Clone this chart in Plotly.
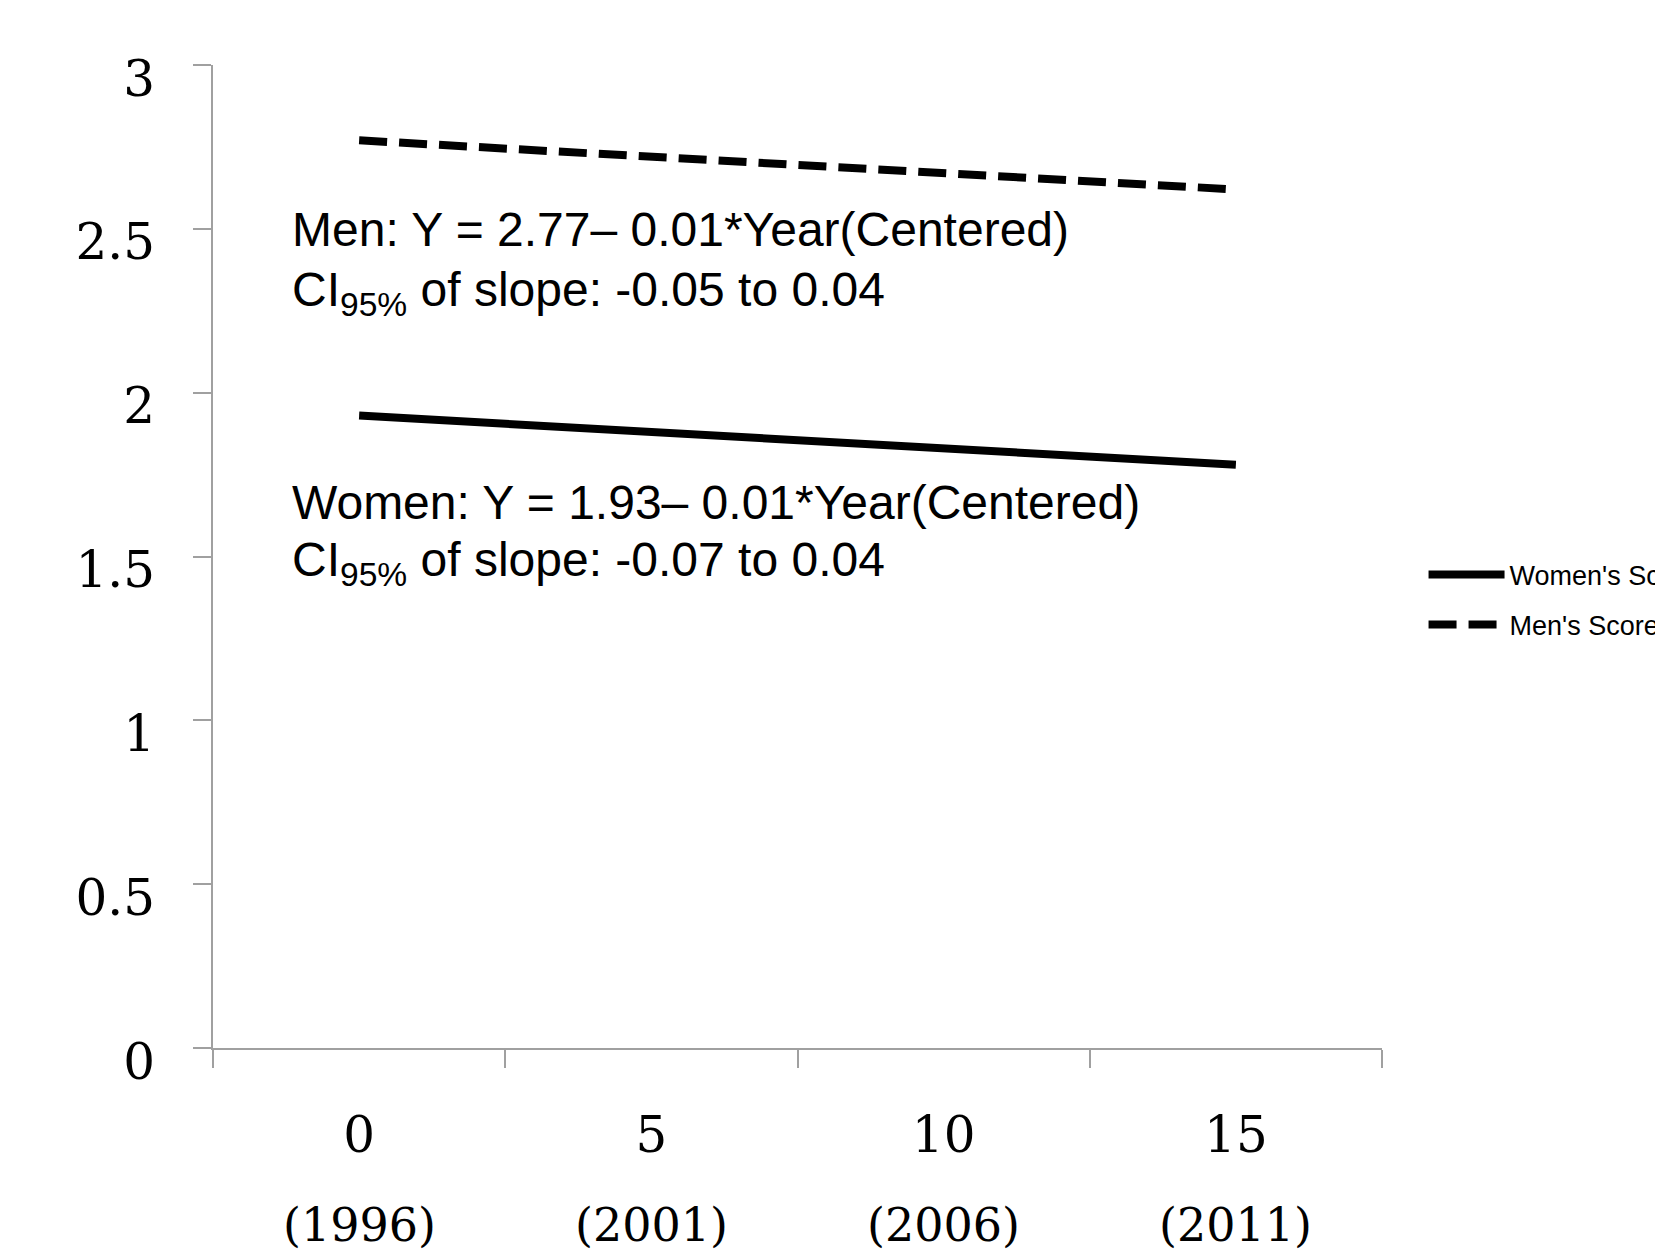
import plotly.graph_objects as go

years_centered = ["0", "5", "10", "15"]
calendar_years = ["(1996)", "(2001)", "(2006)", "(2011)"]
women_scores = [1.93, 1.88, 1.83, 1.78]
men_scores = [2.77, 2.72, 2.67, 2.62]
y_ticks = [0, 0.5, 1, 1.5, 2, 2.5, 3]
y_tick_labels = ["0", "0.5", "1", "1.5", "2", "2.5", "3"]

men_line1 = "Men: Y = 2.77\u2013 0.01*Year(Centered)"
men_line2 = "CI<sub>95%</sub> of slope: -0.05 to 0.04"
women_line1 = "Women: Y = 1.93\u2013 0.01*Year(Centered)"
women_line2 = "CI<sub>95%</sub> of slope: -0.07 to 0.04"

fig = go.Figure()
fig.add_trace(go.Scatter(x=years_centered, y=women_scores, mode="lines",
                         name="Women's Scores", legendgroup="w",
                         line=dict(color="black", width=8)))
fig.add_trace(go.Scatter(x=years_centered, y=men_scores, mode="lines",
                         name="Men's Scores", legendgroup="m",
                         line=dict(color="black", width=8, dash="28px,12px")))

serif = "DejaVu Serif"
sans = "Liberation Sans"

fig.update_layout(
    width=1663, height=1251,
    margin=dict(l=205, r=289, t=57, b=211, autoexpand=False),
    plot_bgcolor="white", paper_bgcolor="white",
    showlegend=True,
    legend=dict(xref="container", yref="container", x=0.8512, xanchor="left",
                y=0.5268, yanchor="middle",
                font=dict(family=sans, size=27, color="black"),
                itemwidth=76, tracegroupgap=12, bgcolor="rgba(0,0,0,0)"),
    xaxis=dict(type="category", range=[-0.5, 3.5], tickson="boundaries",
               showline=True, linecolor="#a0a0a0", linewidth=2,
               ticks="outside", ticklen=18, tickwidth=2, tickcolor="#a0a0a0",
               showgrid=False, zeroline=False, automargin=False,
               ticklabelstandoff=42,
               tickfont=dict(family=serif, size=50, color="black")),
    yaxis=dict(range=[0, 3], tickvals=y_ticks, ticktext=y_tick_labels,
               showline=True, linecolor="#a0a0a0", linewidth=2,
               ticks="outside", ticklen=18, tickwidth=2, tickcolor="#a0a0a0",
               showgrid=False, zeroline=False, automargin=False,
               ticklabelstandoff=28, ticklabelshift=13,
               tickfont=dict(family=serif, size=50, color="black")),
)

for i, yr in enumerate(calendar_years):
    fig.add_annotation(x=i, xref="x", y=0, yref="paper", yanchor="middle",
                       yshift=-177, text=yr, showarrow=False,
                       font=dict(family=serif, size=46, color="black"))

text_font = dict(family=sans, size=48, color="black")
for txt, yv in [(men_line1, 2.498), (men_line2, 2.305),
                (women_line1, 1.665), (women_line2, 1.480)]:
    fig.add_annotation(x=0.066, xref="paper", y=yv, yref="y", xanchor="left",
                       yanchor="middle", align="left", text=txt, showarrow=False,
                       font=text_font)

fig.write_html("out.html")
